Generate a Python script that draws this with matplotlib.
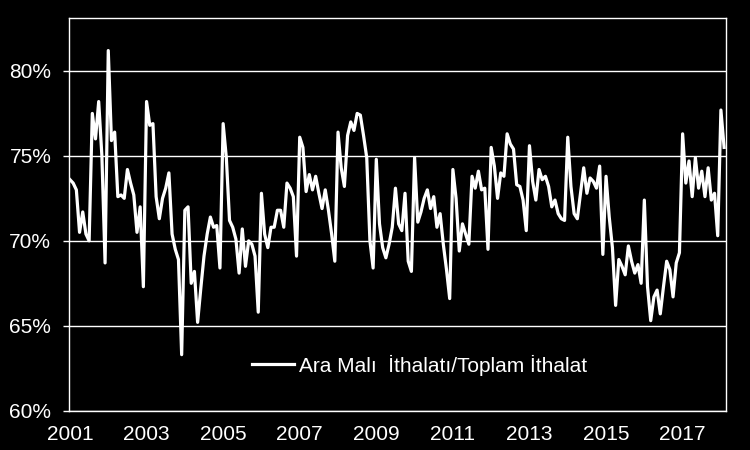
import matplotlib.pyplot as plt
import numpy as np

# Ara malı ithalatı / toplam ithalat, aylık (%), Ocak 2001 - Şubat 2018
oran = [
    73.6, 73.4, 73.0, 70.5, 71.7, 70.4, 70.0, 77.5, 76.0, 78.2, 75.0, 68.7,  # 2001
    81.2, 75.9, 76.4, 72.6, 72.7, 72.5, 74.2, 73.4, 72.7, 70.5, 72.0, 67.3,  # 2002
    78.2, 76.8, 76.9, 72.6, 71.3, 72.5, 73.1, 74.0, 70.4, 69.5, 68.9, 63.3,  # 2003
    71.8, 72.0, 67.5, 68.2, 65.2, 67.2, 69.1, 70.4, 71.4, 70.8, 70.9, 68.4,  # 2004
    76.9, 74.9, 71.2, 70.8, 70.1, 68.1, 70.7, 68.5, 70.0, 69.8, 69.1, 65.8,  # 2005
    72.8, 70.4, 69.6, 70.8, 70.8, 71.8, 71.8, 70.8, 73.4, 73.1, 72.6, 69.1,  # 2006
    76.1, 75.5, 72.9, 73.9, 73.0, 73.8, 72.8, 71.9, 73.0, 71.8, 70.4, 68.8,  # 2007
    76.4, 74.3, 73.2, 76.2, 77.0, 76.5, 77.5, 77.4, 76.2, 74.9, 70.0, 68.4,  # 2008
    74.8, 71.0, 69.6, 69.0, 69.8, 70.8, 73.1, 71.0, 70.6, 72.8, 68.8, 68.2,  # 2009
    74.9, 71.1, 71.7, 72.5, 73.0, 71.9, 72.6, 70.8, 71.6, 69.8, 68.3, 66.6,  # 2010
    74.2, 72.5, 69.4, 71.0, 70.4, 69.8, 73.8, 73.1, 74.1, 73.0, 73.1, 69.5,  # 2011
    75.5, 74.4, 72.5, 74.0, 73.8, 76.3, 75.7, 75.4, 73.3, 73.2, 72.4, 70.6,  # 2012
    75.6, 73.5, 72.4, 74.2, 73.6, 73.8, 73.2, 72.0, 72.4, 71.6, 71.3, 71.2,  # 2013
    76.1, 73.2, 71.6, 71.3, 72.8, 74.3, 72.8, 73.7, 73.5, 73.1, 74.4, 69.2,  # 2014
    73.8, 71.4, 69.6, 66.2, 68.9, 68.5, 68.0, 69.7, 68.8, 68.1, 68.6, 67.5,  # 2015
    72.4, 67.3, 65.3, 66.7, 67.1, 65.7, 67.3, 68.8, 68.3, 66.7, 68.7, 69.3,  # 2016
    76.3, 73.4, 74.7, 72.6, 74.9, 73.1, 74.1, 72.6, 74.3, 72.4, 72.8, 70.3,  # 2017
    77.7, 75.5,  # 2018
]

yillar = ['2001', '2003', '2005', '2007', '2009', '2011', '2013', '2015', '2017']
y_ticks = [60, 65, 70, 75, 80]
etiket = 'Ara Malı  İthalatı/Toplam İthalat'

plt.rcParams['font.family'] = ['Liberation Sans', 'DejaVu Sans']

fig = plt.figure(figsize=(7.5, 4.5), dpi=100, facecolor='black')
ax = fig.add_axes([68.7 / 750, 1 - 410.7 / 450, 657 / 750, 392.4 / 450])
ax.set_facecolor('black')

x = np.arange(len(oran))
ax.plot(x, oran, color='white', lw=2.3, label=etiket, zorder=3)

ax.set_xlim(-0.4, 205.5)
ax.set_ylim(60, 83.1)
ax.set_yticks(y_ticks)
ax.set_yticklabels([f'{v}%' for v in y_ticks])
ax.set_xticks(np.arange(len(yillar)) * 24)
ax.set_xticklabels(yillar)

ax.set_axisbelow(True)
ax.grid(axis='y', color='white', lw=1)
for s in ax.spines.values():
    s.set_color('white')
    s.set_linewidth(1)

ax.tick_params(axis='y', colors='white', length=4.5, width=1, pad=8, labelsize=15)
ax.tick_params(axis='x', colors='white', length=0, pad=10, labelsize=15)

leg = ax.legend(loc='center left', bbox_to_anchor=((252 - 68.7) / 657, 1 - (365 - 18.3) / 392.4),
                frameon=False, fontsize=15, handlelength=2.0, handletextpad=0.25,
                borderpad=0, borderaxespad=0)
for t in leg.get_texts():
    t.set_color('white')

fig.savefig('out.png', dpi=100, facecolor='black')
